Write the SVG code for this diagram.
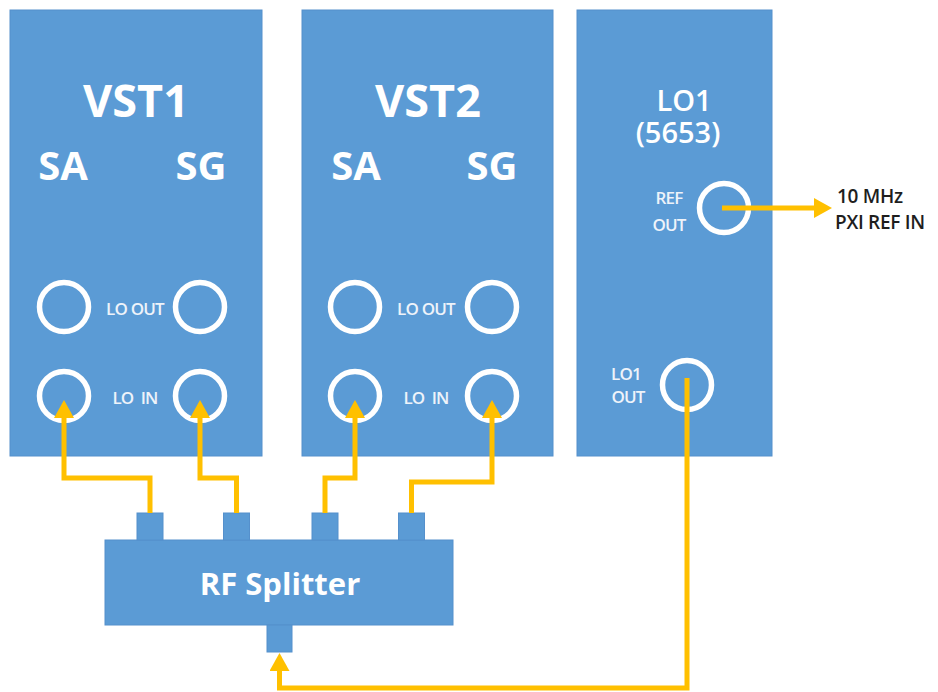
<svg xmlns="http://www.w3.org/2000/svg" width="938" height="692" viewBox="0 0 938 692">
<style>
.box{fill:#5B9BD5;stroke:#5590CC;stroke-width:1}
.jack{fill:none;stroke:#FFFFFF;stroke-width:5.5}
.title{font-family:"Open Sans","Liberation Sans",sans-serif;font-weight:700;fill:#FFFFFF;text-anchor:middle}
.t1{font-size:45px}
.t2{font-size:40px}
.lo{font-family:"Open Sans","Liberation Sans",sans-serif;font-weight:600;font-size:29px;fill:#FFFFFF;text-anchor:middle}
.lbl{font-family:"Open Sans","Liberation Sans",sans-serif;font-weight:600;font-size:17px;fill:#EEF3FA;text-anchor:middle;letter-spacing:-0.8px}
.ext{font-family:"Open Sans","Liberation Sans",sans-serif;font-weight:600;font-size:19px;fill:#1E1E1E;letter-spacing:-0.3px}
.wire{fill:none;stroke:#FFC000;stroke-width:5;stroke-linejoin:miter;marker-end:url(#ah)}
</style>
<defs>
<marker id="ah" markerUnits="userSpaceOnUse" viewBox="0 -10 18 20" refX="0" refY="0" markerWidth="18" markerHeight="20" orient="auto">
<path d="M0,-10 L18,0 L0,10 z" fill="#FFC000"/>
</marker>
</defs>
<rect width="938" height="692" fill="#FFFFFF"/>

<g id="vst1">
<rect class="box" x="10" y="10" width="252" height="446"/>
<text class="title t1" x="136" y="117">VST1</text>
<text class="title t2" x="63" y="180">SA</text>
<text class="title t2" x="201" y="180">SG</text>
<circle class="jack" cx="64" cy="307" r="24.5"/>
<circle class="jack" cx="200" cy="307" r="24.5"/>
<circle class="jack" cx="64" cy="396" r="24.5"/>
<circle class="jack" cx="200" cy="396" r="24.5"/>
<text class="lbl" x="135" y="315">LO OUT</text>
<text class="lbl" x="135" y="404" xml:space="preserve">LO  IN</text>
</g>

<g id="vst2">
<rect class="box" x="302" y="10" width="251" height="446"/>
<text class="title t1" x="428" y="117">VST2</text>
<text class="title t2" x="356" y="180">SA</text>
<text class="title t2" x="492" y="180">SG</text>
<circle class="jack" cx="355" cy="307" r="24.5"/>
<circle class="jack" cx="492" cy="307" r="24.5"/>
<circle class="jack" cx="355" cy="396" r="24.5"/>
<circle class="jack" cx="492" cy="396" r="24.5"/>
<text class="lbl" x="426" y="315">LO OUT</text>
<text class="lbl" x="426" y="404" xml:space="preserve">LO  IN</text>
</g>

<g id="lo1">
<rect class="box" x="577" y="10" width="195" height="446"/>
<text class="lo" x="684" y="111">LO1</text>
<text class="lo" x="678" y="143">(5653)</text>
<circle class="jack" cx="724" cy="208" r="24.5"/>
<text class="lbl" x="669" y="204">REF</text>
<text class="lbl" x="669" y="231">OUT</text>
<circle class="jack" cx="687" cy="385" r="24.5"/>
<text class="lbl" x="626" y="380">LO1</text>
<text class="lbl" x="628" y="403">OUT</text>
</g>

<g id="splitter">
<rect class="box" x="105" y="540" width="348" height="85"/>
<rect class="box" x="137" y="513" width="26" height="27"/>
<rect class="box" x="223.5" y="513" width="26" height="27"/>
<rect class="box" x="312" y="513" width="26" height="27"/>
<rect class="box" x="398.5" y="513" width="26" height="27"/>
<rect class="box" x="267" y="625" width="25" height="27"/>
<text class="title" x="280" y="595" style="font-size:31px">RF Splitter</text>
</g>

<g id="pxi-ref-in">
<text class="ext" x="837" y="203">10 MHz</text>
<text class="ext" x="835" y="229">PXI REF IN</text>
</g>

<g id="connectors">
<path class="wire" d="M150,513 V478 H64 V418"/>
<path class="wire" d="M236.5,513 V478 H200 V418"/>
<path class="wire" d="M325,513 V478 H355 V418"/>
<path class="wire" d="M411.5,513 V482 H492 V418"/>
<path class="wire" d="M687,378 V688 H279.5 V671"/>
<path class="wire" d="M722,208 H814"/>
</g>
</svg>
